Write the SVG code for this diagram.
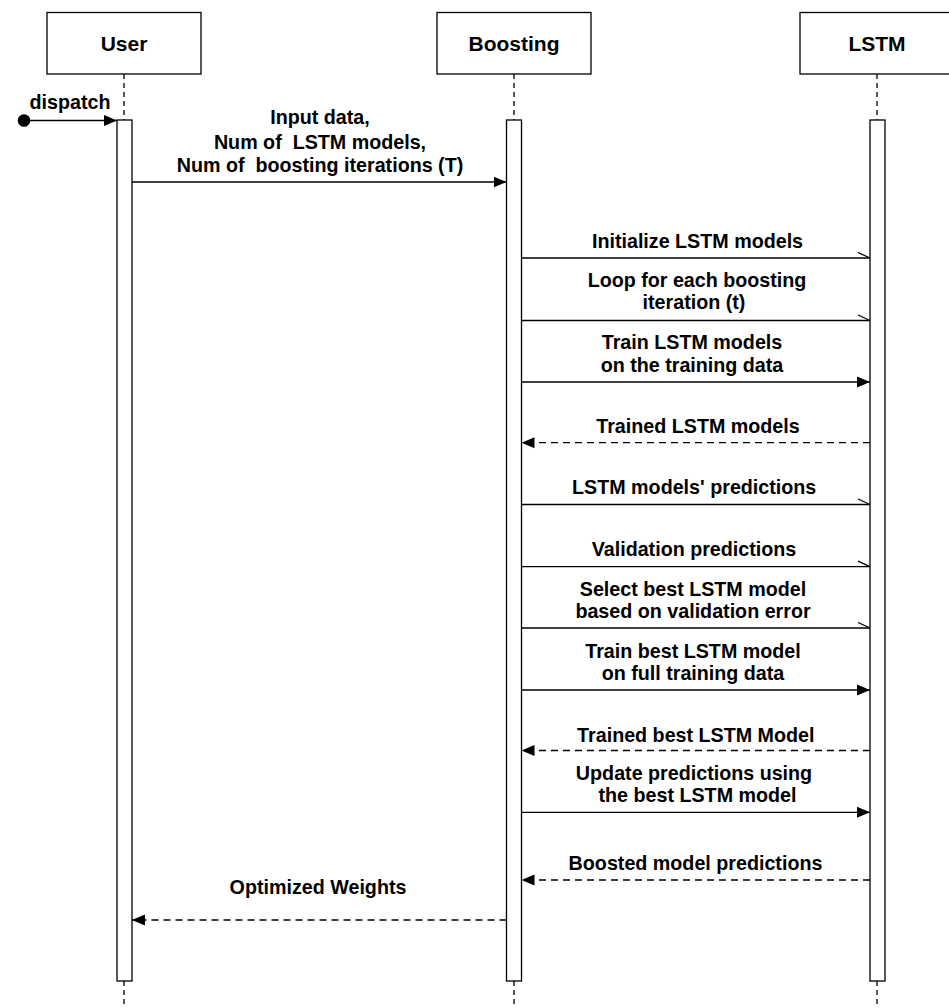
<svg xmlns="http://www.w3.org/2000/svg" width="949" height="1008" viewBox="0 0 949 1008">
  <style>
    .box { fill: #ffffff; stroke: #000000; stroke-width: 1.3; }
    .bar { fill: #ffffff; stroke: #000000; stroke-width: 1.3; }
    .life { stroke: #000000; stroke-width: 1.3; stroke-dasharray: 5 4; fill: none; }
    .msg { stroke: #000000; stroke-width: 1.3; fill: none; }
    .ret { stroke: #000000; stroke-width: 1.3; fill: none; stroke-dasharray: 7 5; }
    .title { font-family: "Liberation Sans", Arial, sans-serif; font-weight: bold; font-size: 21px; fill: #000000; text-anchor: middle; }
    .lbl { font-family: "Liberation Sans", Arial, sans-serif; font-weight: bold; font-size: 19.7px; fill: #000000; text-anchor: middle; white-space: pre; }
  </style>
  <defs>
    <marker id="filled" markerWidth="14" markerHeight="12" refX="13" refY="6" orient="auto" markerUnits="userSpaceOnUse">
      <path d="M0,0.5 L13,6 L0,11.5 Z" fill="#000000"/>
    </marker>
    <marker id="half" markerWidth="14" markerHeight="8" refX="13" refY="6.5" orient="auto" markerUnits="userSpaceOnUse">
      <path d="M1,1 L13,6.5" stroke="#000000" stroke-width="1.3" fill="none"/>
    </marker>
  </defs>

  <g id="lifelines">
    <line class="life" x1="124" y1="74" x2="124" y2="120"/>
    <line class="life" x1="124" y1="981" x2="124" y2="1008"/>
    <line class="life" x1="514" y1="74" x2="514" y2="120"/>
    <line class="life" x1="514" y1="981" x2="514" y2="1008"/>
    <line class="life" x1="877" y1="74" x2="877" y2="120"/>
    <line class="life" x1="877" y1="981" x2="877" y2="1008"/>
  </g>

  <g id="node-user">
    <rect class="box" x="47" y="12.5" width="154" height="61.5"/>
    <text class="title" x="124" y="50.5">User</text>
    <rect class="bar" x="117" y="120" width="15" height="861"/>
  </g>
  <g id="node-boosting">
    <rect class="box" x="437" y="12.5" width="154" height="61.5"/>
    <text class="title" x="514" y="50.5">Boosting</text>
    <rect class="bar" x="506.5" y="120" width="15" height="861"/>
  </g>
  <g id="node-lstm">
    <rect class="box" x="800" y="12.5" width="154" height="61.5"/>
    <text class="title" x="877" y="50.5">LSTM</text>
    <rect class="bar" x="870" y="120" width="15" height="861"/>
  </g>

  <g id="connectors">
    <!-- dispatch -->
    <circle cx="24" cy="120.5" r="6.3" fill="#000000"/>
    <line class="msg" x1="24" y1="120.5" x2="117" y2="120.5" marker-end="url(#filled)"/>
    <text class="lbl" x="70" y="109">dispatch</text>

    <!-- input -->
    <line class="msg" x1="132" y1="182" x2="506.5" y2="182" marker-end="url(#filled)"/>
    <text class="lbl" x="320" y="124">Input data,</text>
    <text class="lbl" x="320" y="148.5">Num of  LSTM models,</text>
    <text class="lbl" x="320" y="172">Num of  boosting iterations (T)</text>

    <!-- Boosting -> LSTM -->
    <line class="msg" x1="521.5" y1="258" x2="870" y2="258" marker-end="url(#half)"/>
    <text class="lbl" x="697.5" y="248.3">Initialize LSTM models</text>

    <line class="msg" x1="521.5" y1="320.5" x2="870" y2="320.5" marker-end="url(#half)"/>
    <text class="lbl" x="697" y="286.5">Loop for each boosting</text>
    <text class="lbl" x="694" y="309">iteration (t)</text>

    <line class="msg" x1="521.5" y1="382" x2="870" y2="382" marker-end="url(#filled)"/>
    <text class="lbl" x="692" y="349.3">Train LSTM models</text>
    <text class="lbl" x="692" y="371.7">on the training data</text>

    <line class="ret" x1="870" y1="442.7" x2="521.5" y2="442.7" marker-end="url(#filled)"/>
    <text class="lbl" x="698" y="433.3">Trained LSTM models</text>

    <line class="msg" x1="521.5" y1="504.5" x2="870" y2="504.5" marker-end="url(#half)"/>
    <text class="lbl" x="694.2" y="494.3">LSTM models' predictions</text>

    <line class="msg" x1="521.5" y1="566.7" x2="870" y2="566.7" marker-end="url(#half)"/>
    <text class="lbl" x="694" y="556">Validation predictions</text>

    <line class="msg" x1="521.5" y1="628" x2="870" y2="628" marker-end="url(#half)"/>
    <text class="lbl" x="693" y="596">Select best LSTM model</text>
    <text class="lbl" x="693" y="618.3">based on validation error</text>

    <line class="msg" x1="521.5" y1="690" x2="870" y2="690" marker-end="url(#filled)"/>
    <text class="lbl" x="693" y="657.7">Train best LSTM model</text>
    <text class="lbl" x="693" y="680">on full training data</text>

    <line class="ret" x1="870" y1="750.5" x2="521.5" y2="750.5" marker-end="url(#filled)"/>
    <text class="lbl" x="695.8" y="741.7">Trained best LSTM Model</text>

    <line class="msg" x1="521.5" y1="812.3" x2="870" y2="812.3" marker-end="url(#filled)"/>
    <text class="lbl" x="694" y="780">Update predictions using</text>
    <text class="lbl" x="697.5" y="801.7">the best LSTM model</text>

    <line class="ret" x1="870" y1="880" x2="521.5" y2="880" marker-end="url(#filled)"/>
    <text class="lbl" x="695.5" y="870">Boosted model predictions</text>

    <!-- Boosting -> User -->
    <line class="ret" x1="506.5" y1="920" x2="132" y2="920" marker-end="url(#filled)"/>
    <text class="lbl" x="318" y="894.3">Optimized Weights</text>
  </g>
</svg>
